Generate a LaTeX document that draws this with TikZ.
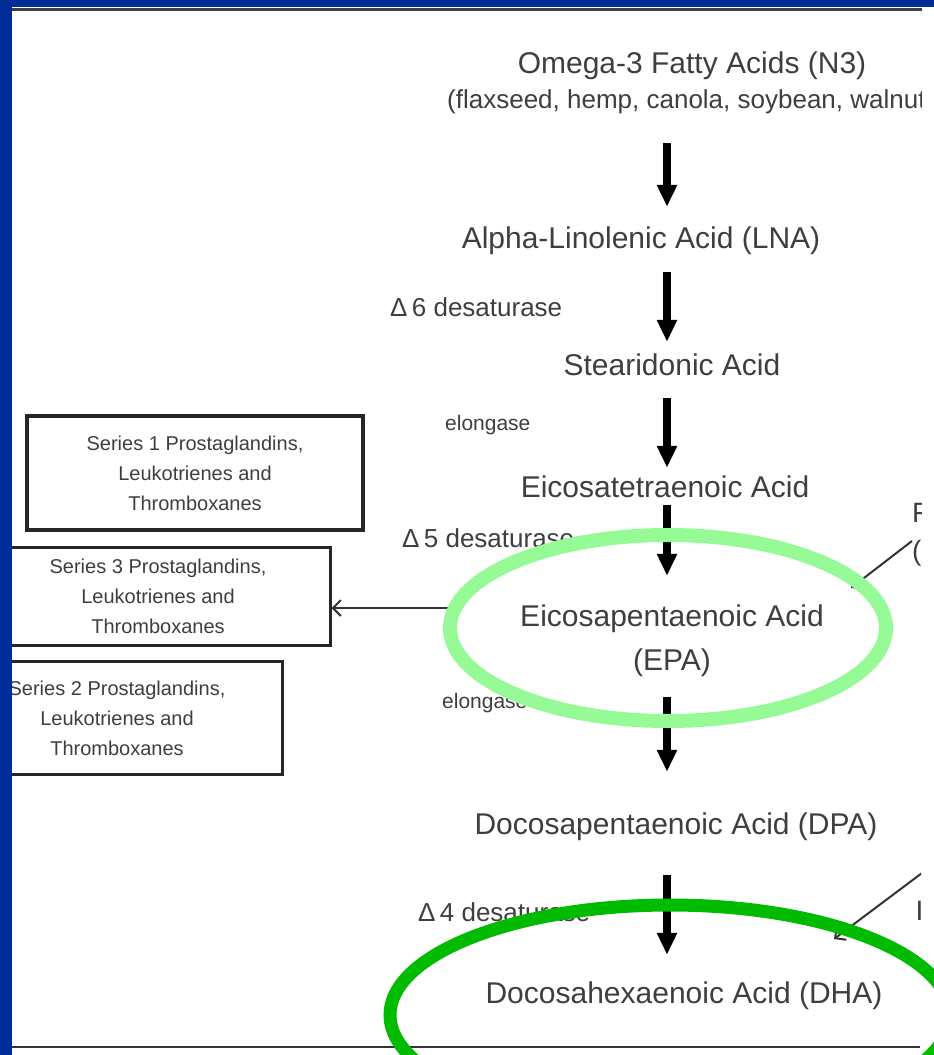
\documentclass[tikz,border=0pt]{standalone}
\usepackage{fontspec}
\setmainfont{Liberation Sans}
\usetikzlibrary{arrows.meta}
\definecolor{slideblue}{RGB}{0,45,150}
\definecolor{ink}{RGB}{62,62,62}
\definecolor{epagreen}{RGB}{150,250,150}
\definecolor{dhagreen}{RGB}{0,187,0}
\tikzset{acid/.style={inner sep=0pt,text=ink,align=center,font=\fontsize{30}{44}\selectfont},oneline/.style={text height=22pt,text depth=6pt},enzyme/.style={inner sep=0pt,text=ink,anchor=west,font=\fontsize{26}{30}\selectfont},series/.style={draw=black!85,line width=3pt,inner sep=0pt,text=ink,align=center,font=\fontsize{20}{30}\selectfont},flow/.style={line width=8pt,-{Triangle[length=22pt,width=19pt]}},side/.style={draw=black!80,line width=2pt,-{Straight Barb[length=8pt,width=16pt]}}}

\begin{document}
\begin{tikzpicture}[x=1pt,y=-1pt]
\useasboundingbox (0,0) rectangle (934,1055);
\clip (0,0) rectangle (934,1055);
\begin{scope}
\clip (12,11) rectangle (921,1046);
\node[acid,oneline] (n3) at (692,65) {Omega-3 Fatty Acids (N3)};
\node[enzyme,text height=19pt,text depth=6pt] (src) at (447,102) {(flaxseed, hemp, canola, soybean, walnut)};
\node[acid,oneline] (lna) at (641,240) {Alpha-Linolenic Acid (LNA)};
\node[enzyme] (d6) at (390,307) {Δ\,6 desaturase};
\node[acid,oneline] (sda) at (672,367) {Stearidonic Acid};
\node[enzyme,font=\fontsize{21}{25}\selectfont] (el1) at (445,425) {elongase};
\node[acid,oneline] (eta) at (665,489) {Eicosatetraenoic Acid};
\node[enzyme] (d5) at (402,538) {Δ\,5 desaturase};
\node[acid] (epa) at (672,641) {Eicosapentaenoic Acid\\(EPA)};
\node[enzyme,font=\fontsize{21}{25}\selectfont] (el2) at (442,703) {elongase};
\node[acid,oneline] (dpa) at (676,826) {Docosapentaenoic Acid (DPA)};
\node[enzyme] (d4) at (418,912) {Δ\,4 desaturase};
\node[acid,oneline] (dha) at (684,995) {Docosahexaenoic Acid (DHA)};
\node[series,line width=4pt,minimum width=336pt,minimum height=114pt] (ser1) at (195,473) {Series 1 Prostaglandins,\\Leukotrienes and\\Thromboxanes};
\node[series,minimum width=344pt,minimum height=98pt] (ser3) at (158,596) {Series 3 Prostaglandins,\\Leukotrienes and\\Thromboxanes};
\node[series,minimum width=330pt,minimum height=113pt] (ser2) at (117,718) {Series 2 Prostaglandins,\\Leukotrienes and\\Thromboxanes};
\node[enzyme,align=left,font=\fontsize{28}{38}\selectfont] (fish) at (912,535) {F\\(};
\node[enzyme,font=\fontsize{28}{34}\selectfont] (frag) at (915.5,911) {I};
\coordinate (ax) at (667,0);
\coordinate (epain) at (455,608);
\coordinate (tipa) at (851,588);
\coordinate (tailb) at (930,867);
\coordinate (tipb) at (834,939);
\draw[flow,shorten <=28.5pt,shorten >=19pt] (src.south -| ax) -- (lna.north -| ax);
\draw[flow,shorten <=18pt,shorten >=11pt] (lna.south -| ax) -- (sda.north -| ax);
\draw[flow,shorten <=17pt,shorten >=7pt] (sda.south -| ax) -- (eta.north -| ax);
\draw[flow,shorten <=2pt,shorten >=29pt] (eta.south -| ax) -- (epa.north -| ax);
\draw[flow,shorten <=20pt,shorten >=40pt] (epa.south -| ax) -- (dpa.north -| ax);
\draw[flow,shorten <=35pt,shorten >=26pt] (dpa.south -| ax) -- (dha.north -| ax);
\draw[side] (epain) -- (epain -| ser3.east);
\draw[side] ([yshift=-6pt]fish.west) -- (tipa);
\draw[side] (tailb) -- (tipb);
\end{scope}
\draw[black!75,line width=3pt] (12,9.5) -- (922,9.5);
\draw[black!80,line width=2pt] (12,1047) -- (920,1047);
\draw[epagreen,line width=14pt] (668,628) ellipse [x radius=218pt,y radius=93pt];
\draw[dhagreen,line width=13pt] (670,1015) ellipse [x radius=280pt,y radius=110pt];
\fill[slideblue] (0,0) rectangle (12,1055);
\fill[slideblue] (0,0) rectangle (934,7);
\end{tikzpicture}
\end{document}
